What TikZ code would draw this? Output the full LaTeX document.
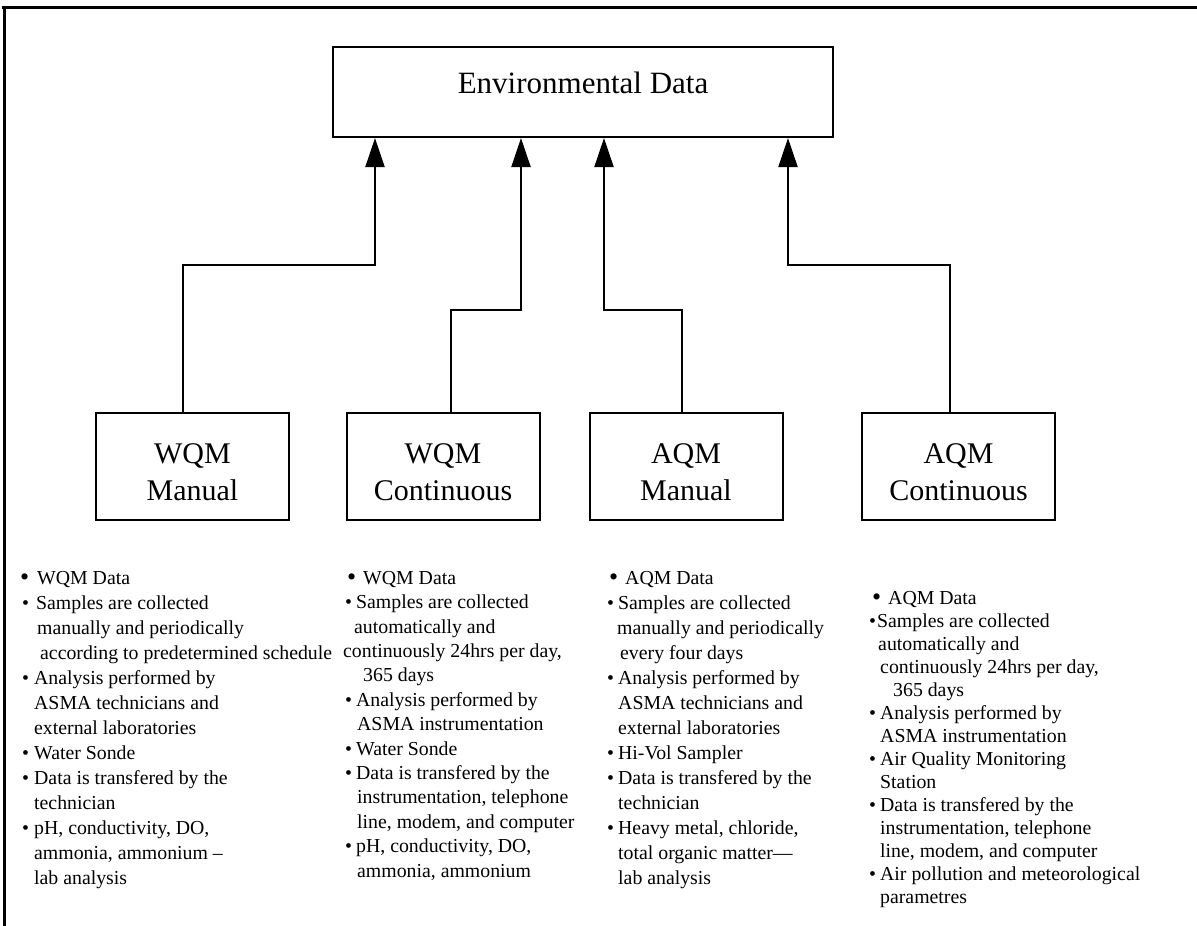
\documentclass[tikz,border=0pt]{standalone}
\usepackage{fontspec}
\setmainfont{Liberation Serif}
\usetikzlibrary{arrows.meta,calc}

% bullets used in the description columns
\newcommand{\bigb}{{\fontsize{26}{10}\selectfont\raisebox{-1pt}{•}}}
\newcommand{\smb}{•}

\begin{document}
\begin{tikzpicture}[x=1pt,y=-1pt,
  frame/.style={line width=3pt},
  topbox/.style={draw,line width=2pt,minimum width=500pt,minimum height=90pt,inner sep=0pt},
  srcbox/.style={draw,line width=2pt,minimum width=193pt,minimum height=107pt,inner sep=0pt},
  toplabel/.style={inner sep=0pt,font=\fontsize{31}{37}\selectfont},
  srclabel/.style={inner sep=0pt,align=center,font=\fontsize{30}{37}\selectfont},
  conn/.style={line width=2pt},
  arr/.style={conn,-{Triangle[length=29pt,width=19pt]}},
  col/.style={anchor=north west,inner sep=0pt,align=left},
]
\useasboundingbox (0,0) rectangle (1197,926);

% outer frame (top and left edges only)
\draw[frame] (2,7) -- (1197,7);
\draw[frame] (4,5.5) -- (4,926);

% main box
\node[topbox] (env) at (583,92) {};
\node[toplabel] (envl) at ([yshift=9pt]env.center) {Environmental Data};

% source boxes
\node[srcbox] (wqmm) at (192.5,466.5) {};
\node[srcbox] (wqmc) at (443,466.5) {};
\node[srcbox] (aqmm) at (686,466.5) {};
\node[srcbox] (aqmc) at (958.5,466.5) {};
\node[srclabel] (wqmml) at ([yshift=-6pt]wqmm.center) {WQM\\Manual};
\node[srclabel] (wqmcl) at ([yshift=-6pt]wqmc.center) {WQM\\Continuous};
\node[srclabel] (aqmml) at ([yshift=-6pt]aqmm.center) {AQM\\Manual};
\node[srclabel] (aqmcl) at ([yshift=-6pt]aqmc.center) {AQM\\Continuous};

% junction points of the elbow connectors
\coordinate (j1) at (375,265);
\coordinate (j2) at (521,310);
\coordinate (j3) at (604,310);
\coordinate (j4) at (788,265);

\draw[arr] ($(wqmm.north west)!0.45!(wqmm.north east)$) |- (j1) -- (j1 |- env.south);
\draw[arr] ($(wqmc.north west)!0.54!(wqmc.north east)$) |- (j2) -- (j2 |- env.south);
\draw[arr] ($(aqmm.north west)!0.48!(aqmm.north east)$) |- (j3) -- (j3 |- env.south);
\draw[arr] ($(aqmc.north west)!0.456!(aqmc.north east)$) |- (j4) -- (j4 |- env.south);

% description columns
\node[col,font=\fontsize{19.8}{25}\selectfont] (t1) at (20,571) {%
\makebox[17pt][l]{\bigb}WQM Data\\
\hspace*{2pt}\makebox[14pt][l]{\smb}Samples are collected\\
\hspace*{17pt}manually and periodically\\
\hspace*{20pt}according to predetermined schedule\\
\hspace*{2pt}\makebox[12pt][l]{\smb}Analysis performed by\\
\hspace*{14pt}ASMA technicians and\\
\hspace*{14pt}external laboratories\\
\hspace*{2pt}\makebox[12pt][l]{\smb}Water Sonde\\
\hspace*{2pt}\makebox[12pt][l]{\smb}Data is transfered by the\\
\hspace*{14pt}technician\\
\hspace*{2pt}\makebox[12pt][l]{\smb}pH, conductivity, DO,\\
\hspace*{14pt}ammonia, ammonium --\\
\hspace*{14pt}lab analysis};

\node[col,font=\fontsize{19.8}{24.4}\selectfont] (t2) at (343,571) {%
\hspace*{4pt}\makebox[16pt][l]{\bigb}WQM Data\\
\hspace*{2pt}\makebox[11pt][l]{\smb}Samples are collected\\
\hspace*{11pt}automatically and\\
continuously 24hrs per day,\\
\hspace*{20pt}365 days\\
\hspace*{2pt}\makebox[11pt][l]{\smb}Analysis performed by\\
\hspace*{14pt}ASMA instrumentation\\
\hspace*{2pt}\makebox[11pt][l]{\smb}Water Sonde\\
\hspace*{2pt}\makebox[11pt][l]{\smb}Data is transfered by the\\
\hspace*{14pt}instrumentation, telephone\\
\hspace*{14pt}line, modem, and computer\\
\hspace*{2pt}\makebox[11pt][l]{\smb}pH, conductivity, DO,\\
\hspace*{14pt}ammonia, ammonium};

\node[col,font=\fontsize{19.8}{25}\selectfont] (t3) at (606,571) {%
\hspace*{3pt}\makebox[16pt][l]{\bigb}AQM Data\\
\hspace*{1pt}\makebox[11pt][l]{\smb}Samples are collected\\
\hspace*{11pt}manually and periodically\\
\hspace*{14pt}every four days\\
\hspace*{1pt}\makebox[11pt][l]{\smb}Analysis performed by\\
\hspace*{12pt}ASMA technicians and\\
\hspace*{12pt}external laboratories\\
\hspace*{1pt}\makebox[11pt][l]{\smb}Hi-Vol Sampler\\
\hspace*{1pt}\makebox[11pt][l]{\smb}Data is transfered by the\\
\hspace*{12pt}technician\\
\hspace*{1pt}\makebox[11pt][l]{\smb}Heavy metal, chloride,\\
\hspace*{12pt}total organic matter---\\
\hspace*{12pt}lab analysis};

\node[col,font=\fontsize{19.8}{23}\selectfont] (t4) at (868,591) {%
\hspace*{4pt}\makebox[16pt][l]{\bigb}AQM Data\\
\hspace*{1pt}\makebox[8pt][l]{\smb}Samples are collected\\
\hspace*{10pt}automatically and\\
\hspace*{12pt}continuously 24hrs per day,\\
\hspace*{25pt}365 days\\
\hspace*{1pt}\makebox[11pt][l]{\smb}Analysis performed by\\
\hspace*{12pt}ASMA instrumentation\\
\hspace*{1pt}\makebox[11pt][l]{\smb}Air Quality Monitoring\\
\hspace*{12pt}Station\\
\hspace*{1pt}\makebox[11pt][l]{\smb}Data is transfered by the\\
\hspace*{12pt}instrumentation, telephone\\
\hspace*{12pt}line, modem, and computer\\
\hspace*{1pt}\makebox[11pt][l]{\smb}Air pollution and meteorological\\
\hspace*{12pt}parametres};
\end{tikzpicture}
\end{document}
